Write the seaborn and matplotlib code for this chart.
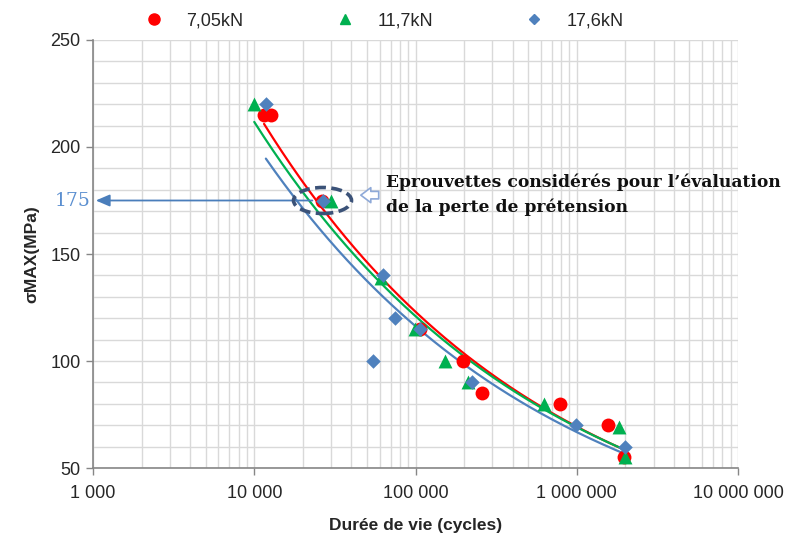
import numpy as np
import pandas as pd
import matplotlib
matplotlib.use("Agg")
import matplotlib.pyplot as plt
import seaborn as sns
from matplotlib.patches import Ellipse
from matplotlib.transforms import ScaledTranslation

# ---- data ----
series_names = ["7,05kN", "11,7kN", "17,6kN"]
red_x = [11500, 12700, 26300, 106000, 196000, 258000, 790000, 1570000, 1950000]
red_y = [215, 215, 175, 115, 100, 85, 80, 70, 55]
green_x = [10000, 30000, 61000, 99000, 152000, 211000, 630000, 1840000, 2000000]
green_y = [220, 175, 139, 115, 100, 90, 80, 69, 55]
blue_x = [11800, 26700, 63000, 75000, 107000, 54700, 224000, 994000, 1980000]
blue_y = [220, 175, 140, 120, 115, 100, 90, 70, 60]
x_ticks = [1000, 10000, 100000, 1000000, 10000000]
x_tick_labels = ["1 000", "10 000", "100 000", "1 000 000", "10 000 000"]
y_ticks = [50, 100, 150, 200, 250]
ref_stress = 175
ref_cycles = 26500

colors = ["#FF0000", "#00B050", "#4F81BD"]
markers = ["o", "^", "D"]
marker_sizes = [100, 100, 55]

df = pd.DataFrame({
    "cycles": red_x + green_x + blue_x,
    "stress": red_y + green_y + blue_y,
    "serie": [series_names[0]] * len(red_x) + [series_names[1]] * len(green_x) + [series_names[2]] * len(blue_x),
})

sns.set_theme(style="white")
plt.rcParams["font.family"] = ["Liberation Sans", "DejaVu Sans"]

fig = plt.figure(figsize=(7.91, 5.39), dpi=100)
ax = fig.add_axes([0.1176, 0.1317, 0.8154, 0.7941])
ax.set_xscale("log")
ax.set_xlim(1000, 10000000)
ax.set_ylim(50, 250)

# grid
ax.set_yticks(y_ticks)
ax.set_yticks(np.arange(50, 251, 10), minor=True)
ax.grid(True, which="both", color="#D9D9D9", linewidth=1.0)
ax.set_axisbelow(True)

# trend lines (power fit)
for (xs, ys), c in zip([(red_x, red_y), (green_x, green_y), (blue_x, blue_y)], colors):
    lx, ly = np.log10(xs), np.log10(ys)
    b, a = np.polyfit(lx, ly, 1)
    xx = np.logspace(lx.min(), lx.max(), 200)
    ax.plot(xx, 10 ** a * xx ** b, color=c, linewidth=1.6, zorder=2)

for name, c, m, s in zip(series_names, colors, markers, marker_sizes):
    sns.scatterplot(data=df[df["serie"] == name], x="cycles", y="stress",
                    color=c, marker=m, s=s, linewidth=0, ax=ax, zorder=3, legend=False)

# legend
handles = [plt.Line2D([], [], marker=m, color=c, linestyle="none", markersize=ms)
           for m, c, ms in zip(markers, colors, [8, 7, 5.5])]
ax.legend(handles, series_names, loc="lower left", bbox_to_anchor=(0.047, 0.995),
          ncol=3, frameon=False, fontsize=13, handletextpad=0.8,
          columnspacing=4.6, borderaxespad=0.3)

# ticks & labels
ax.set_xticks(x_ticks)
ax.set_xticklabels(x_tick_labels)
ax.xaxis.set_minor_locator(matplotlib.ticker.LogLocator(base=10, subs=np.arange(2, 10)))
ax.xaxis.set_minor_formatter(matplotlib.ticker.NullFormatter())
ax.tick_params(axis="both", which="major", labelsize=13, colors="#262626",
               length=5, width=1, color="#868686", direction="out",
               bottom=True, left=True)
ax.tick_params(axis="x", which="major", pad=7)
ax.tick_params(axis="y", which="major", pad=4)
ax.tick_params(axis="both", which="minor", length=0)
ax.set_xlabel("Durée de vie (cycles)", fontsize=12.5, fontweight="bold", labelpad=12)
ax.set_ylabel("σMAX(MPa)", fontsize=12.5, fontweight="bold", labelpad=8)

for s in ["top", "right"]:
    ax.spines[s].set_visible(False)
for s in ["left", "bottom"]:
    ax.spines[s].set_color("#868686")
    ax.spines[s].set_linewidth(1.2)

# annotation: 175 arrow
ax.annotate("", xy=(1000, ref_stress), xytext=(ref_cycles * 0.9, ref_stress),
            arrowprops=dict(arrowstyle="-|>,head_length=0.7,head_width=0.3",
                            color="#4A7EBB", lw=1.3), annotation_clip=False, zorder=4)
ax.text(1000 / 1.035, ref_stress, "175", color="#5B8FD0", fontsize=13.5,
        family="DejaVu Serif", ha="right", va="center")

# dashed ellipse around considered specimens
ell = Ellipse((0, 0), 0.58, 0.26,
              transform=fig.dpi_scale_trans + ScaledTranslation(ref_cycles, ref_stress, ax.transData),
              fill=False, edgecolor="#3B5278", linestyle=(0, (3, 1.5)), linewidth=2.6, zorder=5)
ax.add_patch(ell)

# hollow arrow
ax.annotate("", xy=(44000, 177.5), xytext=(61500, 177.5),
            arrowprops=dict(arrowstyle="simple,head_length=0.6,head_width=0.9,tail_width=0.45",
                            fc="white", ec="#8EA9D8", lw=1.2), zorder=5)

ax.text(66000, 177.5, "Eprouvettes considérés pour l\u2019évaluation\nde la perte de prétension",
        fontsize=12.3, fontweight="bold", family="DejaVu Serif", color="#111111",
        ha="left", va="center", linespacing=1.55)

fig.savefig("out.png", dpi=100)
